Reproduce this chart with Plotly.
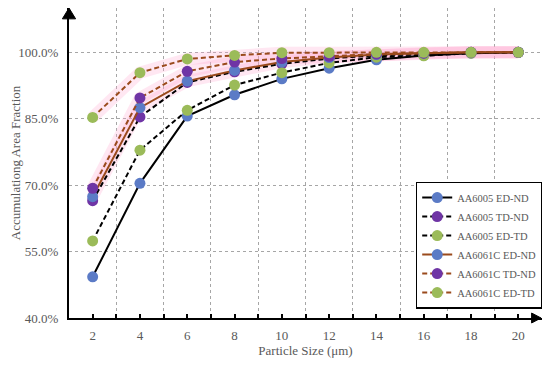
import plotly.graph_objects as go

x_vals = [2, 4, 6, 8, 10, 12, 14, 16, 18, 20]

aa6005_ed_nd = [49.3, 70.4, 85.6, 90.4, 94.0, 96.4, 98.3, 99.3, 99.8, 100.0]
aa6005_td_nd = [66.5, 85.4, 93.2, 95.6, 97.4, 98.6, 99.3, 99.6, 99.9, 100.0]
aa6005_ed_td = [57.4, 77.9, 86.9, 92.6, 95.4, 97.6, 98.9, 99.2, 99.8, 100.0]
aa6061c_ed_nd = [67.4, 87.5, 93.5, 95.9, 97.8, 98.8, 99.5, 99.8, 100.0, 100.0]
aa6061c_td_nd = [69.3, 89.7, 95.7, 97.8, 98.6, 99.1, 99.6, 99.8, 100.0, 100.0]
aa6061c_ed_td = [85.3, 95.4, 98.5, 99.3, 99.9, 99.9, 100.0, 100.0, 100.0, 100.0]

y_ticks = [40, 55, 70, 85, 100]
x_ticks = [2, 4, 6, 8, 10, 12, 14, 16, 18, 20]

BLUE = "#5b7bc6"
PURPLE = "#6f35a5"
GREEN = "#9bbb59"
BROWN = "#9a4a1c"
FONT = "Times New Roman, Liberation Serif, serif"
GRAY = "#595959"

series = [
    ("AA6005 ED-ND", aa6005_ed_nd, "black", "solid", BLUE, False),
    ("AA6005 TD-ND", aa6005_td_nd, "black", "dash", PURPLE, False),
    ("AA6005 ED-TD", aa6005_ed_td, "black", "dash", GREEN, False),
    ("AA6061C ED-ND", aa6061c_ed_nd, BROWN, "solid", BLUE, True),
    ("AA6061C TD-ND", aa6061c_td_nd, BROWN, "dash", PURPLE, True),
    ("AA6061C ED-TD", aa6061c_ed_td, BROWN, "dash", GREEN, True),
]

fig = go.Figure()

# pink glow under AA6061C lines
for name, ys, lc, dash, mc, glow in series:
    if glow:
        fig.add_trace(go.Scatter(
            x=x_vals, y=ys, mode="lines", showlegend=False, hoverinfo="skip",
            line=dict(color="rgba(255,170,210,0.28)", width=12),
        ))

for name, ys, lc, dash, mc, glow in series:
    fig.add_trace(go.Scatter(
        x=x_vals, y=ys, name=name, mode="lines+markers",
        line=dict(color=lc, width=2, dash="5px,3px" if dash == "dash" else "solid"),
        marker=dict(color=mc, size=11, line=dict(width=0)),
    ))

# page has an 8px body margin: figure is sized/offset to compensate
fig.update_layout(
    width=542, height=358,
    margin=dict(l=61, r=8, t=0, b=48, autoexpand=False),
    paper_bgcolor="white", plot_bgcolor="white",
    font=dict(family=FONT, size=13, color=GRAY),
    legend=dict(
        x=0.733, y=0.44, xanchor="left", yanchor="top",
        bgcolor="white", bordercolor="black", borderwidth=1.5,
        font=dict(family=FONT, size=10.5, color=GRAY),
        tracegroupgap=0, itemwidth=30,
    ),
    xaxis=dict(
        range=[1, 21], tickvals=x_ticks, ticktext=[str(v) for v in x_ticks],
        showgrid=False, zeroline=False, automargin=False,
        showline=True, linecolor="black", linewidth=2, mirror=True,
        ticks="inside", ticklen=4, tickcolor="black", tickwidth=1.5,
        minor=dict(tick0=1, dtick=2, ticks="inside", ticklen=4, tickcolor="black",
                   showgrid=True, gridcolor="#a6a6a6", gridwidth=1.2, griddash="dot"),
        title=dict(text="Particle Size (μm)", font=dict(family=FONT, size=13, color=GRAY), standoff=2),
        tickfont=dict(family=FONT, size=13, color=GRAY),
        ticklabelstandoff=4,
    ),
    yaxis=dict(
        range=[40, 110], tickvals=y_ticks,
        ticktext=[f"{v:.1f}%" for v in y_ticks],
        showgrid=True, gridcolor="#a6a6a6", gridwidth=1.2, griddash="dot",
        zeroline=False, automargin=False,
        showline=True, linecolor="black", linewidth=2, mirror=True,
        ticks="", ticklen=0, ticklabelstandoff=6,
        title=dict(text="Accumulationg Area Fraction", font=dict(family=FONT, size=13, color=GRAY), standoff=6),
        tickfont=dict(family=FONT, size=13, color=GRAY),
    ),
)

# axis arrows
fig.add_shape(type="path", xref="paper", yref="paper",
              path="M -0.014,0.965 L 0.014,0.965 L 0,1.0 Z",
              fillcolor="black", line=dict(color="black", width=1))
fig.add_shape(type="path", xref="paper", yref="paper",
              path="M 0.978,0.016 L 0.978,-0.016 L 0.998,0 Z",
              fillcolor="black", line=dict(color="black", width=1))

fig.write_html("out.html")
